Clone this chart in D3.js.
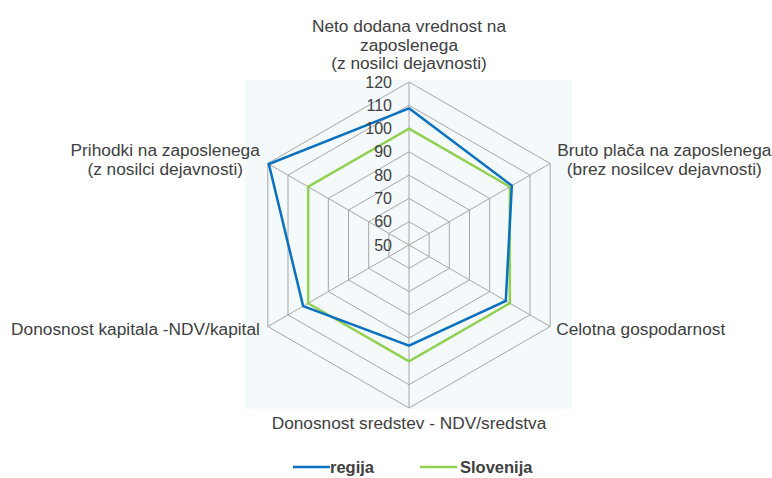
<!DOCTYPE html>
<html>
<head>
<meta charset="utf-8">
<script src="https://cdn.jsdelivr.net/npm/d3@7"></script>
<style>
  body { margin: 0; background: #fff; }
  text { font-family: "Liberation Sans", Arial, sans-serif; fill: #404040; }
</style>
</head>
<body>
<div id="wrapper"></div>
<script>
// data
const categories = [
  ["Neto dodana vrednost na", "zaposlenega", "(z nosilci dejavnosti)"],
  ["Bruto plača na zaposlenega", "(brez nosilcev dejavnosti)"],
  ["Celotna gospodarnost"],
  ["Donosnost sredstev - NDV/sredstva"],
  ["Donosnost kapitala -NDV/kapital"],
  ["Prihodki na zaposlenega", "(z nosilci dejavnosti)"]
];
const regija = [108.7, 101, 98, 93.2, 102.5, 119.5];
const slovenija = [100, 100, 100, 100, 100, 100];
const ticks = [50, 60, 70, 80, 90, 100, 110, 120];
const seriesNames = ["regija", "Slovenija"];
const colors = ["#0a70c0", "#92d050"];

function drawRadar() {
  const dimensions = { width: 772, height: 478, cx: 409, cy: 245, radius: 163 };

  const wrapper = d3.select("#wrapper")
    .append("svg")
    .attr("width", dimensions.width)
    .attr("height", dimensions.height);

  // plot area background
  wrapper.append("rect")
    .attr("x", 245).attr("y", 80)
    .attr("width", 327).attr("height", 329)
    .attr("fill", "#f4f9fb");

  const bounds = wrapper.append("g")
    .attr("transform", `translate(${dimensions.cx},${dimensions.cy})`);

  const rScale = d3.scaleLinear()
    .domain([ticks[0], ticks[ticks.length - 1]])
    .range([0, dimensions.radius]);

  const angleStep = 2 * Math.PI / categories.length;
  const point = (i, v) => {
    const a = i * angleStep;
    return [Math.sin(a) * rScale(v), -Math.cos(a) * rScale(v)];
  };

  // grid
  const grid = bounds.append("g")
    .attr("fill", "none")
    .attr("stroke", "#a6a6a6")
    .attr("stroke-width", 1);

  grid.selectAll(".ring")
    .data(ticks.slice(1))
    .join("polygon")
    .attr("class", "ring")
    .attr("points", t => categories.map((c, i) => point(i, t).join(",")).join(" "));

  grid.selectAll(".spoke")
    .data(categories)
    .join("line")
    .attr("class", "spoke")
    .attr("x1", 0).attr("y1", 0)
    .attr("x2", (d, i) => point(i, ticks[ticks.length - 1])[0])
    .attr("y2", (d, i) => point(i, ticks[ticks.length - 1])[1]);

  // series
  const lineGenerator = d3.lineRadial()
    .angle((d, i) => i * angleStep)
    .radius(d => rScale(d))
    .curve(d3.curveLinearClosed);

  [slovenija, regija].forEach((values, k) => {
    bounds.append("path")
      .attr("d", lineGenerator(values))
      .attr("fill", "none")
      .attr("stroke", k === 0 ? colors[1] : colors[0])
      .attr("stroke-width", 2.5)
      .attr("stroke-linejoin", "miter");
  });

  // tick labels
  bounds.selectAll(".tick-label")
    .data(ticks)
    .join("text")
    .attr("class", "tick-label")
    .attr("x", -17)
    .attr("y", d => -rScale(d))
    .attr("dy", "0.35em")
    .attr("text-anchor", "end")
    .style("font-size", "16px")
    .text(d => d);

  // category labels
  const outer = ticks[ticks.length - 1];
  const lineHeight = 18.5;
  const labelLayout = [
    { anchor: "middle", dx: 0, dy: -13, from: "bottom" },
    { anchor: "start", dx: 7, dy: -7.5, from: "top" },
    { anchor: "start", dx: 6, dy: 8.5, from: "top" },
    { anchor: "middle", dx: 0, dy: 21, from: "top" },
    { anchor: "end", dx: -8, dy: 8.5, from: "top" },
    { anchor: "end", dx: -8, dy: -7.5, from: "top" }
  ];

  categories.forEach((lines, i) => {
    const [px, py] = point(i, outer);
    const lay = labelLayout[i];
    const g = bounds.append("g");
    const startY = lay.from === "bottom"
      ? py + lay.dy - (lines.length - 1) * lineHeight
      : py + lay.dy;
    const texts = g.selectAll("text")
      .data(lines)
      .join("text")
      .attr("y", (d, j) => startY + j * lineHeight)
      .attr("text-anchor", "middle")
      .style("font-size", "17.3px")
      .text(d => d);
    // center the lines as a block next to the vertex
    const widths = texts.nodes().map(n => n.getComputedTextLength());
    const maxW = d3.max(widths);
    let centerX = px + lay.dx;
    if (lay.anchor === "start") centerX = px + lay.dx + maxW / 2;
    if (lay.anchor === "end") centerX = px + lay.dx - maxW / 2;
    texts.attr("x", centerX);
  });

  // legend
  const legend = wrapper.append("g")
    .attr("transform", "translate(293,467)");
  const legendItems = legend.selectAll("g")
    .data(seriesNames)
    .join("g")
    .attr("transform", (d, i) => `translate(${i * 127},0)`);
  legendItems.append("line")
    .attr("x1", 0).attr("x2", 37)
    .attr("y1", 0).attr("y2", 0)
    .attr("stroke", (d, i) => colors[i])
    .attr("stroke-width", 2.5);
  legendItems.append("text")
    .attr("x", (d, i) => i === 0 ? 37 : 40)
    .attr("dy", "0.35em")
    .style("font-size", "16.5px")
    .style("font-weight", "bold")
    .text(d => d);
}
drawRadar();
</script>
</body>
</html>
